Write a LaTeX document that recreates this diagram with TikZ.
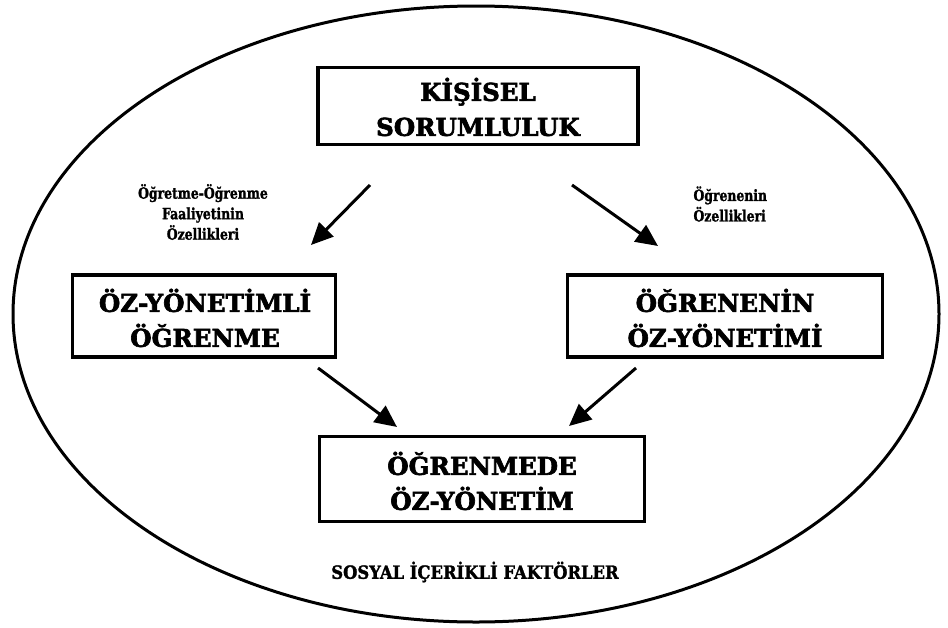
\documentclass[tikz,border=0pt]{standalone}
\usepackage{fontspec}
\setmainfont{DejaVu Serif}
\newfontfamily\heavy{DejaVu Serif Bold}[FakeBold=2.6]
\newfontfamily\heavysmall{DejaVu Serif Bold}[FakeBold=1.4,FakeStretch=0.8]
\newfontfamily\heavysoc{DejaVu Serif Bold}[FakeBold=1.6,FakeStretch=0.9]
\usetikzlibrary{arrows.meta}
\begin{document}
\begin{tikzpicture}[x=1pt,y=-1pt,
  box/.style={draw,line width=3.2pt,inner sep=0pt,minimum height=#1},
  boxtext/.style={font=\heavy\fontsize{24.5}{35}\selectfont,align=center},
  lbl/.style={font=\heavysmall\fontsize{15.5}{20.5}\selectfont},
  arr/.style={line width=3pt,-{Triangle[length=22pt,width=20pt]}}]
\useasboundingbox (0,0) rectangle (948,627);
\fill[white] (0,0) rectangle (948,627);
\draw[line width=3pt] (476,314) ellipse [x radius=463, y radius=308];
\node[box=77pt,minimum width=320pt] (top) at (478,106) {};
\node[boxtext] (toptxt) at (478,107) {KİŞİSEL\\SORUMLULUK};
\node[box=82pt,minimum width=263pt] (left) at (204,316) {};
\node[boxtext] (lefttxt) at (205,318) {ÖZ-YÖNETİMLİ\\ÖĞRENME};
\node[box=82pt,minimum width=315pt] (right) at (725,316) {};
\node[boxtext] (righttxt) at (725,318) {ÖĞRENENİN\\ÖZ-YÖNETİMİ};
\node[box=85pt,minimum width=325pt] (bot) at (482,479) {};
\node[boxtext] (bottxt) at (482,481) {ÖĞRENMEDE\\ÖZ-YÖNETİM};
\node[lbl,align=center] (l1) at (203,212) {Öğretme-Öğrenme\\Faaliyetinin\\Özellikleri};
\node[lbl,align=left,anchor=west] (l2) at (690,204) {Öğrenenin\\Özellikleri};
\node[font=\heavysoc\fontsize{18.2}{20}\selectfont] (soc) at (475,572) {SOSYAL İÇERİKLİ FAKTÖRLER};
\coordinate (a1s) at (370,185); \coordinate (a1e) at (311,245);
\coordinate (a2s) at (572,185); \coordinate (a2e) at (658,246);
\coordinate (a3s) at (318,368); \coordinate (a3e) at (397,427);
\coordinate (a4s) at (636,368); \coordinate (a4e) at (569,426);
\draw[arr] (a1s) -- (a1e);
\draw[arr] (a2s) -- (a2e);
\draw[arr] (a3s) -- (a3e);
\draw[arr] (a4s) -- (a4e);
\end{tikzpicture}
\end{document}
